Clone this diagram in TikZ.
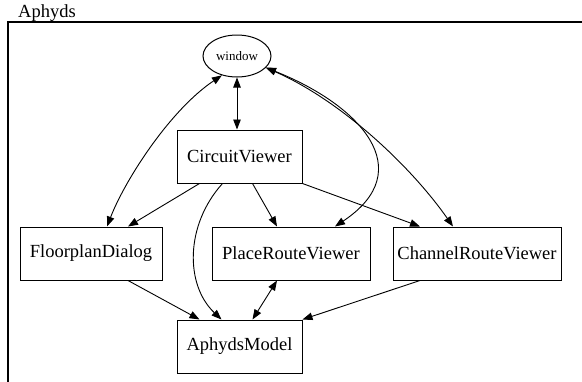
\documentclass[tikz,border=0pt]{standalone}
\usepackage{fontspec}
\setmainfont{Liberation Serif}
\usetikzlibrary{arrows.meta,shapes.geometric,calc}
\begin{document}
\begin{tikzpicture}[x=1pt,y=-1pt,
  box/.style={draw,line width=1pt,rectangle,minimum height=53pt,inner sep=0pt,font=\fontsize{18.5}{20}\selectfont},
  oval/.style={draw,line width=1pt,ellipse,minimum width=68pt,minimum height=42pt,inner sep=0pt,font=\fontsize{13}{15}\selectfont},
  edge/.style={line width=0.9pt,-{Triangle[length=10pt,width=7.5pt]}},
  biedge/.style={line width=0.9pt,{Triangle[length=10pt,width=7.5pt]}-{Triangle[length=10pt,width=7.5pt]}},
  frame/.style={draw,line width=1.2pt}]
\useasboundingbox (0,0) rectangle (582,381);
\clip (0,0) rectangle (582,381);
\fill[white] (0,0) rectangle (582,381);
\draw[frame] (8,22) rectangle (600,400);
\node[anchor=base west,inner sep=0pt,font=\fontsize{18.5}{20}\selectfont] (title) at (18,17) {Aphyds};

\node[oval] (win) at (237,56) {window};
\node[box,minimum width=125pt] (cv) at (239.5,156.5) {CircuitViewer};
\node[box,minimum width=142pt] (fd) at (91,253.5) {FloorplanDialog};
\node[box,minimum width=158pt] (prv) at (291,253.5) {PlaceRouteViewer};
\node[box,minimum width=168pt] (crv) at (477,253.5) {ChannelRouteViewer};
\node[box,minimum width=125pt] (am) at (239.5,346.5) {AphydsModel};

\draw[biedge] (win.south) -- (win.south |- cv.north);
\draw[biedge] (win.-128) .. controls (170,110) and (125,180) .. ($(fd.north)+(16,0)$);
\draw[biedge] (win.-22) .. controls (360,105) and (420,170) .. ($(prv.north)+(44,0)$);
\draw[biedge] (win.-22) .. controls (340,100) and (410,165) .. ($(crv.north)+(-24,0)$);
\draw[edge] ($(cv.south)+(-40,0)$) -- ($(fd.north)+(37,0)$);
\draw[edge] ($(cv.south)+(-17,0)$) .. controls (185,225) and (185,285) .. ($(am.north)+(-18,0)$);
\draw[edge] ($(cv.south)+(13,0)$) -- ($(prv.north)+(-14,0)$);
\draw[edge] (cv.south east) -- ($(crv.north)+(-57,0)$);
\draw[edge] ($(fd.south)+(37,0)$) -- ($(am.north)+(-40,0)$);
\draw[biedge] ($(prv.south)+(-14,0)$) -- ($(am.north)+(13,0)$);
\draw[edge] ($(crv.south)+(-57,0)$) -- (am.north east);
\end{tikzpicture}
\end{document}
